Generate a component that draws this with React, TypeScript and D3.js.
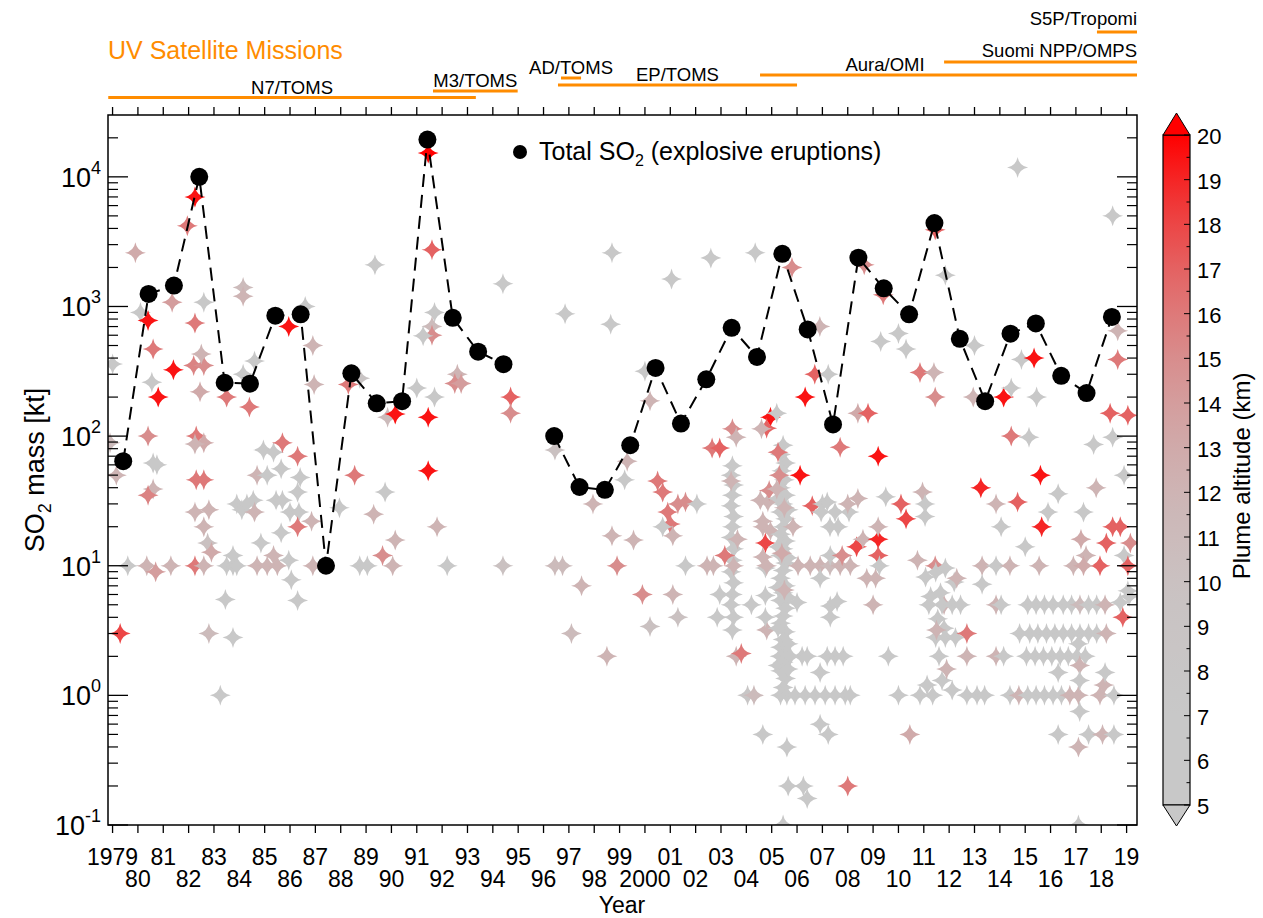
import React from "react";
import * as d3 from "d3";

// ---------------- DATA ----------------
const totalYears: number[] = [
  1979, 1980, 1981, 1982, 1983, 1984, 1985, 1986, 1987, 1988, 1989, 1990, 1991, 1992, 1993, 1994, 1995,
  1996, 1997, 1998, 1999, 2000, 2001, 2002, 2003, 2004, 2005, 2006, 2007, 2008, 2009, 2010, 2011, 2012,
  2013, 2014, 2015, 2016, 2017, 2018,
];
// Total SO2 (kt) from explosive eruptions per year (1995: no value)
const totalSO2: (number | null)[] = [
  64, 1250, 1450, 10000, 258, 254, 850, 870, 10, 305, 179, 186, 19400, 817, 448, 359, null,
  100, 40.5, 38.5, 85, 336, 125, 274, 684, 408, 2550, 665, 123, 2380, 1380, 870, 4400, 563,
  186, 617, 740, 292, 215, 830,
];
const yearMid = 0.42; // annual totals plotted within the year

// individual eruptions: [decimal year, SO2 mass (kt), plume altitude (km)]
const eruptions: [number, number, number][] = [
  // 1979-1980
  [1978.9, 89, 11], [1979.0, 360, 7], [1979.15, 50, 12], [1979.3, 3, 18], [1979.6, 10, 7], [1979.9, 2600, 13],
  [1980.1, 900, 7], [1980.4, 780, 19.5], [1980.6, 470, 16], [1980.55, 260, 7], [1980.8, 200, 19.5],
  [1980.4, 100, 15], [1980.6, 62, 7], [1980.75, 60, 7], [1980.6, 39, 12], [1980.4, 35, 15.5],
  [1980.35, 10, 12], [1980.7, 9, 14],
  // 1981-1982
  [1981.35, 1080, 14], [1981.4, 325, 19.5], [1981.3, 10, 12],
  [1981.95, 4200, 16], [1982.25, 7000, 19.5], [1982.25, 745, 16], [1982.6, 1080, 7],
  [1982.2, 350, 15.5], [1982.6, 350, 15], [1982.5, 430, 12], [1982.45, 220, 13],
  [1982.3, 100, 16], [1982.6, 89, 13], [1982.25, 87, 12], [1982.3, 46, 16], [1982.6, 46, 16],
  [1982.25, 26, 12], [1982.6, 20, 12], [1982.8, 27, 12], [1982.75, 15, 10], [1982.9, 12.7, 13],
  [1982.25, 10, 16], [1982.6, 10, 12], [1982.8, 3, 11],
  // 1983-1984
  [1983.5, 200, 16], [1983.25, 1.0, 7], [1983.45, 5.5, 7], [1983.75, 2.8, 7],
  [1983.5, 10, 7], [1983.75, 10, 7], [1983.9, 10, 7], [1983.75, 12, 7],
  [1983.9, 30, 7], [1984.1, 27, 7], [1984.3, 30, 7], [1984.55, 32, 7],
  [1984.15, 1400, 11], [1984.15, 1200, 12], [1984.15, 300, 7], [1984.4, 168, 16], [1984.6, 380, 7],
  [1984.7, 50, 12], [1984.6, 26, 12], [1984.85, 15, 7], [1984.95, 78, 7], [1985.35, 75, 7], [1985.1, 50, 7],
  [1984.7, 10, 12], [1985.1, 10, 12], [1985.5, 10, 12], [1985.35, 12, 12],
  // 1985-1986
  [1985.7, 89, 16], [1985.65, 56, 7], [1985.45, 32, 7], [1985.7, 32, 7], [1985.65, 18, 7],
  [1985.95, 11, 7], [1986.05, 7.8, 7], [1986.3, 5.4, 7], [1985.95, 700, 19.5], [1986.3, 70, 16],
  [1986.4, 48, 7], [1986.3, 37, 7], [1986.0, 26, 7], [1986.35, 26, 7], [1986.3, 20, 16],
  [1986.6, 1000, 7], [1986.9, 500, 12], [1986.95, 250, 12], [1986.85, 22, 12], [1986.9, 10, 12],
  // 1987-1990
  [1987.95, 28, 7], [1988.3, 250, 16], [1988.55, 50, 16], [1988.75, 10, 7], [1988.75, 280, 9],
  [1989.35, 2100, 7], [1989.85, 140, 11], [1990.15, 148, 19.5], [1989.75, 37, 7], [1989.3, 25, 12],
  [1989.05, 10, 7], [1989.65, 12, 15], [1990.15, 15.8, 12], [1990.05, 10, 12],
  // 1991-1994
  [1991.0, 235, 7], [1991.45, 15300, 20], [1991.6, 2740, 17], [1991.7, 900, 7], [1991.6, 700, 11],
  [1991.6, 600, 15], [1991.25, 595, 7], [1991.7, 200, 7], [1991.45, 140, 19.5], [1991.45, 54, 19.5],
  [1991.8, 20, 12], [1992.2, 10, 7],
  [1992.6, 300, 12], [1992.5, 255, 15], [1992.75, 255, 14],
  [1994.4, 1500, 7], [1994.7, 200, 17], [1994.7, 150, 15], [1994.4, 10, 10],
  // 1996-1999
  [1996.45, 78, 10], [1996.85, 880, 7], [1996.45, 10, 11], [1996.75, 10, 11], [1997.5, 7, 12],
  [1997.1, 3, 11], [1997.95, 30, 12], [1998.5, 2.0, 12], [1998.7, 2600, 7], [1998.65, 730, 7],
  [1998.7, 17, 12], [1998.9, 10, 15], [1999.3, 64, 12], [1999.2, 46, 7], [1999.55, 15.8, 12],
  [1999.9, 6, 15], [2000.2, 3.4, 10], [2000.0, 317, 7], [2000.2, 187, 12],
  // 2000-2002
  [2000.5, 45, 16], [2000.7, 37, 16], [2000.9, 26, 16], [2001.0, 21, 16], [2001.1, 17, 12],
  [2000.7, 20, 7], [2001.3, 30, 15], [2001.6, 31, 15], [2001.1, 6, 12], [2001.3, 4, 10],
  [2001.6, 10, 7], [2001.05, 1630, 7], [2002.05, 30, 7],
  [2002.6, 2370, 7], [2002.45, 10, 12], [2002.7, 10, 12], [2002.85, 4, 7], [2002.65, 81, 16],
  [2002.95, 81, 17], [2002.95, 6, 7],
  // 2003
  [2003.45, 59, 7], [2003.4, 50, 7], [2003.5, 42, 7], [2003.45, 35, 7], [2003.4, 29, 7],
  [2003.5, 24, 7], [2003.45, 20, 7], [2003.4, 16.5, 7], [2003.5, 13.5, 7], [2003.45, 11, 7],
  [2003.4, 9, 7], [2003.5, 7.4, 7], [2003.45, 6, 7], [2003.4, 5, 7], [2003.5, 4, 7], [2003.45, 3.2, 7],
  [2003.45, 114, 15], [2003.6, 98, 12], [2003.15, 12, 16], [2003.6, 2.0, 12], [2003.65, 16, 12],
  [2003.4, 45, 12], [2003.5, 10, 12], [2003.8, 2.1, 16],
  // 2004
  [2004.35, 2600, 7], [2004.05, 1.0, 8], [2004.3, 1.0, 11], [2004.65, 0.5, 7], [2004.8, 3.2, 12],
  [2004.75, 5.9, 7], [2004.2, 5.0, 7], [2004.75, 4, 7], [2004.65, 20, 12], [2004.75, 9.6, 7],
  [2004.95, 140, 19.5], [2004.8, 115, 17], [2004.6, 114, 12], [2004.55, 32, 12], [2004.85, 31, 12],
  [2004.9, 38, 15], [2004.65, 22, 12], [2004.75, 15, 18], [2004.65, 11.7, 12], [2004.8, 10, 12],
  [2004.95, 18.6, 12],
  // 2005
  [2005.45, 85, 7], [2005.35, 72, 7], [2005.55, 62, 7], [2005.4, 54, 7], [2005.5, 46, 7], [2005.35, 40, 7],
  [2005.55, 35, 7], [2005.45, 30, 7], [2005.35, 26, 7], [2005.55, 23, 7], [2005.45, 20, 7], [2005.35, 17.5, 7],
  [2005.55, 15.5, 7], [2005.45, 13.5, 7], [2005.35, 12, 7], [2005.55, 10.5, 7], [2005.45, 9.2, 7], [2005.35, 8, 7],
  [2005.55, 7, 7], [2005.45, 6.2, 7], [2005.35, 5.4, 7], [2005.55, 4.7, 7], [2005.45, 4.1, 7], [2005.35, 3.6, 7],
  [2005.55, 3.1, 7], [2005.45, 2.7, 7], [2005.35, 2.35, 7], [2005.55, 2.05, 7], [2005.45, 1.8, 7], [2005.35, 1.55, 7],
  [2005.55, 1.35, 7], [2005.45, 1.15, 7], [2005.35, 1.0, 7], [2005.6, 1.0, 7],
  [2005.25, 33, 7], [2005.65, 27, 7], [2005.25, 14, 7], [2005.65, 11.5, 7], [2005.25, 6.8, 7], [2005.65, 5.7, 7],
  [2005.25, 3.3, 7], [2005.65, 2.5, 7], [2005.25, 1.7, 7], [2005.65, 1.6, 7],
  [2005.5, 28, 12], [2005.4, 12.5, 13], [2005.5, 6.5, 12],
  [2005.2, 150, 7], [2005.25, 75, 16], [2005.3, 50, 15], [2005.2, 39, 12], [2005.8, 2000, 15],
  [2005.6, 0.4, 7], [2005.65, 0.2, 7], [2006.25, 0.2, 7], [2006.4, 0.16, 7], [2005.45, 0.1, 7],
  // 2006-2008
  [2006.12, 50, 19.5], [2006.32, 200, 19.5], [2006.7, 300, 17], [2006.6, 29, 17], [2007.19, 31, 7], [2007.0, 30, 7],
  [2007.23, 300, 7], [2006.9, 700, 12], [2007.7, 82, 16], [2006.95, 26, 7], [2007.5, 26, 7], [2008.05, 26, 7],
  [2007.3, 20, 7], [2007.62, 20, 7], [2005.84, 20, 12], [2008.0, 30, 12], [2008.4, 33, 12], [2008.35, 14, 18],
  [2008.6, 16, 12],
  [2006.04, 10, 12], [2006.52, 10, 12], [2006.91, 10, 12], [2007.3, 10, 11], [2007.7, 10, 12], [2008.1, 10, 12],
  [2007.31, 12, 7], [2007.78, 12, 15], [2006.91, 8, 7], [2006.0, 5.2, 7], [2007.31, 4.9, 7], [2007.58, 5.3, 7],
  [2007.31, 4, 7],
  [2005.33, 2, 7], [2005.73, 2, 7], [2006.2, 2, 7], [2006.4, 2, 7], [2007.19, 2, 7], [2007.5, 2, 7], [2007.82, 2, 7],
  [2005.92, 1, 7], [2006.32, 1, 7], [2006.71, 1, 7], [2007.11, 1, 7], [2007.5, 1, 7], [2007.9, 1, 7], [2008.1, 1, 7],
  [2006.91, 1.5, 7], [2006.91, 0.6, 7], [2007.23, 0.5, 7], [2008.0, 0.2, 16],
  [2008.4, 150, 13], [2008.8, 150, 17], [2008.75, 8, 12], [2008.65, 2100, 15],
  // 2009-2010
  [2009.4, 1230, 16], [2009.2, 70, 19.5], [2009.2, 16, 19], [2009.2, 20, 12], [2009.2, 12, 17], [2009.25, 10, 7],
  [2009.1, 8, 12], [2009.0, 5, 12], [2009.6, 2, 7], [2009.5, 34, 7], [2010.0, 620, 7], [2010.3, 470, 7],
  [2009.3, 537, 7], [2010.0, 1.0, 7], [2010.45, 0.5, 13], [2010.1, 30, 17], [2010.3, 23, 18],
  [2010.95, 37, 12], [2010.75, 11, 12],
  // 2011-2012
  [2011.45, 3900, 17], [2011.85, 1740, 7], [2010.85, 310, 16], [2011.4, 310, 12], [2011.45, 200, 15],
  [2011.05, 30, 7], [2011.05, 24, 7], [2011.45, 10, 15], [2011.8, 5, 12], [2010.85, 1, 7], [2011.35, 1, 7],
  [2011.07, 8.2, 7], [2011.47, 8.9, 7], [2011.85, 9.6, 7], [2012.2, 7.5, 7], [2011.27, 5.8, 7], [2011.66, 6.2, 7],
  [2011.2, 5.0, 7], [2011.72, 5.0, 7], [2012.12, 5.0, 7], [2012.45, 5.0, 7], [2011.55, 3.9, 7], [2011.8, 3.3, 7],
  [2011.47, 2.8, 7], [2011.85, 2.8, 7], [2011.6, 2.0, 7], [2012.25, 2.8, 7], [2011.13, 1.2, 7], [2011.72, 1.3, 7],
  [2012.12, 1.1, 7], [2011.5, 3.2, 12], [2011.9, 1.6, 12], [2012.3, 8, 12],
  // 2012-2014
  [2012.7, 3, 16], [2012.7, 2, 12], [2012.7, 1, 7], [2013.1, 1, 7], [2013.4, 1, 7], [2013.0, 500, 7], [2012.95, 200, 12],
  [2013.25, 40, 19], [2013.3, 10, 12], [2013.3, 7.2, 7], [2013.85, 30, 12], [2014.05, 20, 7], [2013.85, 10, 7],
  [2014.4, 10, 12], [2013.85, 5, 12], [2014.05, 5, 7], [2013.85, 2, 12], [2014.15, 2, 7], [2014.4, 1, 7], [2014.75, 1, 12],
  // 2014-2015
  [2014.15, 200, 19.5], [2014.45, 235, 7], [2014.7, 11800, 7], [2014.85, 390, 7], [2014.45, 100, 16], [2014.7, 31, 17],
  [2015.0, 14, 7], [2015.35, 400, 19.5], [2015.45, 200, 7], [2015.15, 98, 7], [2015.6, 50, 19.5], [2015.65, 20, 19],
  [2015.9, 26, 7], [2016.3, 36, 7], [2017.3, 26, 7], [2017.7, 86, 7], [2017.8, 40, 12],
  // 2015-2018 small events
  [2015.1, 5, 7], [2015.43, 5, 7], [2015.76, 5, 7], [2016.1, 5, 7], [2016.5, 5, 7], [2016.83, 5, 7], [2017.16, 5, 11],
  [2017.5, 5, 7], [2017.82, 5, 7], [2018.15, 5, 12],
  [2014.78, 3, 7], [2015.18, 3, 7], [2015.5, 3, 7], [2015.84, 3, 7], [2016.17, 3, 7], [2016.5, 3, 7], [2016.83, 3, 7],
  [2017.16, 3, 7], [2017.5, 3, 7], [2017.82, 3, 7], [2018.2, 3, 12],
  [2015.05, 2, 7], [2015.39, 2, 7], [2015.72, 2, 7], [2016.05, 2, 7], [2016.38, 2, 7], [2016.7, 2, 7], [2017.04, 2, 7],
  [2017.37, 2, 7],
  [2015.1, 1, 7], [2015.43, 1, 7], [2015.76, 1, 7], [2016.1, 1, 7], [2016.43, 1, 7], [2016.76, 1, 12], [2017.1, 1, 12],
  [2017.95, 1, 12], [2018.5, 1, 7],
  [2016.3, 0.5, 7], [2017.1, 0.4, 12], [2017.15, 0.75, 7], [2017.5, 0.5, 7], [2018.05, 0.5, 12], [2018.5, 0.5, 7],
  [2018.1, 1.2, 12], [2018.15, 1.5, 7], [2017.1, 0.1, 7], [2017.1, 2.5, 7], [2017.15, 1.7, 12], [2017.15, 1.3, 7],
  [2016.3, 1.5, 7], [2019.05, 6.4, 7], [2018.75, 5.2, 7], [2019.1, 5.8, 7],
  // 2018-2019
  [2018.45, 5000, 7], [2018.65, 650, 12], [2018.65, 390, 16], [2018.35, 150, 17], [2019.05, 145, 17],
  [2018.45, 98, 7], [2018.9, 50, 7], [2017.2, 16, 13], [2017.4, 12, 12],
  [2018.45, 20, 17], [2018.75, 20, 17], [2018.2, 15, 17], [2019.15, 15, 15], [2018.9, 12, 7], [2019.05, 10, 17],
  [2017.95, 10, 17], [2018.85, 4, 17], [2015.55, 10, 12], [2016.9, 10, 12], [2017.3, 10, 13],
];

// UV satellite missions (decimal years)
const missionNames: string[] = ["N7/TOMS", "M3/TOMS", "AD/TOMS", "EP/TOMS", "Aura/OMI", "Suomi NPP/OMPS", "S5P/Tropomi"];
const missionStart: number[] = [1978.83, 1991.64, 1996.69, 1996.57, 2004.54, 2011.8, 2017.83];
const missionEnd: number[] = [1993.33, 1994.98, 1997.48, 2006.0, 2019.41, 2019.41, 2019.41];

// axes
const xTickYears: number[] = [
  1979, 1980, 1981, 1982, 1983, 1984, 1985, 1986, 1987, 1988, 1989, 1990, 1991, 1992, 1993, 1994, 1995,
  1996, 1997, 1998, 1999, 2000, 2001, 2002, 2003, 2004, 2005, 2006, 2007, 2008, 2009, 2010, 2011, 2012,
  2013, 2014, 2015, 2016, 2017, 2018, 2019,
];
const xTickLabels: string[] = [
  "1979", "80", "81", "82", "83", "84", "85", "86", "87", "88", "89", "90", "91", "92", "93", "94", "95",
  "96", "97", "98", "99", "2000", "01", "02", "03", "04", "05", "06", "07", "08", "09", "10", "11", "12",
  "13", "14", "15", "16", "17", "18", "19",
];
const yTickExponents: number[] = [-1, 0, 1, 2, 3, 4];
const altTicks: number[] = [5, 6, 7, 8, 9, 10, 11, 12, 13, 14, 15, 16, 17, 18, 19, 20];

// ---------------- LAYOUT / STYLE ----------------
const FONT = "'Liberation Sans', Arial, Helvetica, sans-serif";
const ORANGE = "#ff8c00";
const PL = 108, PR = 1137, PT = 115, PB = 825;
const missionLayout: Record<string, { barY: number; textY: number; anchor: "middle" | "end"; at?: number }> = {
  "N7/TOMS": { barY: 97.5, textY: 94, anchor: "middle" },
  "M3/TOMS": { barY: 91, textY: 87, anchor: "middle" },
  "AD/TOMS": { barY: 78, textY: 74, anchor: "middle" },
  "EP/TOMS": { barY: 85, textY: 81, anchor: "middle" },
  "Aura/OMI": { barY: 75, textY: 71, anchor: "middle", at: 2009.47 },
  "Suomi NPP/OMPS": { barY: 62, textY: 57, anchor: "end" },
  "S5P/Tropomi": { barY: 32, textY: 25, anchor: "end" },
};

function starPath(r: number) {
  const a = r * 0.15;
  return `M0,${-r}Q${a},${-a} ${r},0Q${a},${a} 0,${r}Q${-a},${a} ${-r},0Q${-a},${-a} 0,${-r}Z`;
}

export default function App() {
  const x = d3.scaleLinear().domain([1978.82, 2019.41]).range([PL, PR]);
  const y = d3.scaleLog().domain([0.1, 30000]).range([PB, PT]);
  const cb = d3.scaleLinear().domain([5, 20]).range([805, 135]);
  const interp = d3.interpolateRgb("rgb(200,200,200)", "rgb(255,0,0)");
  const color = (a: number) => {
    const t = Math.max(0, Math.min(1, (a - 5) / 15));
    return interp(t * t * t);
  };

  const totals = totalYears.map((yr, i) => ({ yr, v: totalSO2[i] }));
  const line = d3
    .line<{ yr: number; v: number | null }>()
    .defined((d) => d.v != null)
    .x((d) => x(d.yr + yearMid))
    .y((d) => y(d.v as number));

  const star = starPath(10.5);

  // y minor ticks
  const minor: number[] = [];
  for (let e = -1; e <= 4; e++) {
    for (let m = 2; m <= 9; m++) {
      const v = m * Math.pow(10, e);
      if (v < 30000) minor.push(v);
    }
  }

  const gradStops = d3.range(5, 20.01, 0.5);
  const cbX0 = 1163, cbX1 = 1190, cbMid = (cbX0 + cbX1) / 2;

  return (
    <svg
      width={1263}
      height={918}
      style={{ position: "absolute", left: 0, top: 0, background: "#fff" }}
      fontFamily={FONT}
    >
      <defs>
        <clipPath id="plotClip">
          <rect x={PL} y={PT} width={PR - PL} height={PB - PT} />
        </clipPath>
        <linearGradient id="altGrad" x1="0" y1="1" x2="0" y2="0">
          {gradStops.map((a) => (
            <stop key={a} offset={(a - 5) / 15} stopColor={color(a)} />
          ))}
        </linearGradient>
      </defs>
      <rect x={0} y={0} width={1263} height={918} fill="#fff" />

      {/* Missions */}
      <text x={PL} y={59} fontSize={25} fill={ORANGE}>UV Satellite Missions</text>
      {missionNames.map((name, i) => {
        const L = missionLayout[name];
        const x0 = x(missionStart[i]);
        const x1 = x(missionEnd[i]);
        const tx = L.anchor === "end" ? x1 : L.at != null ? x(L.at) : (x0 + x1) / 2;
        return (
          <g key={name}>
            <line x1={x0} x2={x1} y1={L.barY} y2={L.barY} stroke={ORANGE} strokeWidth={3} />
            <text x={tx} y={L.textY} fontSize={18.5} textAnchor={L.anchor} fill="#000">{name}</text>
          </g>
        );
      })}

      {/* Data */}
      <g clipPath="url(#plotClip)">
        {eruptions.map((d, i) => (
          <path key={i} d={star} transform={`translate(${x(d[0])},${y(d[1])})`} fill={color(d[2])} />
        ))}
        <path d={line(totals) || ""} fill="none" stroke="#000" strokeWidth={2} strokeDasharray="13 8" />
        {totals.filter((d) => d.v != null).map((d) => (
          <circle key={d.yr} cx={x(d.yr + yearMid)} cy={y(d.v as number)} r={9} fill="#000" />
        ))}
      </g>

      {/* Frame */}
      <rect x={PL} y={PT} width={PR - PL} height={PB - PT} fill="none" stroke="#000" strokeWidth={1.5} />

      {/* X ticks */}
      {xTickYears.map((yr, i) => (
        <g key={yr}>
          <line x1={x(yr)} x2={x(yr)} y1={PB} y2={PB + 8} stroke="#000" strokeWidth={1.3} />
          <line x1={x(yr)} x2={x(yr)} y1={PT} y2={PT - 8} stroke="#000" strokeWidth={1.3} />
          <text x={x(yr)} y={i % 2 === 0 ? 865 : 887} fontSize={23} textAnchor="middle">{xTickLabels[i]}</text>
        </g>
      ))}
      <text x={622} y={913} fontSize={23} textAnchor="middle">Year</text>

      {/* Y ticks */}
      {yTickExponents.map((e) => {
        const yy = y(Math.pow(10, e));
        return (
          <g key={e}>
            <line x1={PL} x2={PL + 20} y1={yy} y2={yy} stroke="#000" strokeWidth={1.3} />
            <line x1={PR} x2={PR - 20} y1={yy} y2={yy} stroke="#000" strokeWidth={1.3} />
            <text x={101} y={yy + 10} fontSize={27} textAnchor="end">
              10<tspan dy={-13} fontSize={18}>{String(e)}</tspan>
            </text>
          </g>
        );
      })}
      {minor.map((v) => (
        <g key={v}>
          <line x1={PL} x2={PL + 10} y1={y(v)} y2={y(v)} stroke="#000" strokeWidth={1.2} />
          <line x1={PR} x2={PR - 10} y1={y(v)} y2={y(v)} stroke="#000" strokeWidth={1.2} />
        </g>
      ))}
      <text transform="translate(44,470) rotate(-90)" fontSize={27} textAnchor="middle">
        SO<tspan dy={7} fontSize={18}>2</tspan><tspan dy={-7}> mass [kt]</tspan>
      </text>

      {/* Legend */}
      <circle cx={520} cy={152} r={7} fill="#000" />
      <text x={539} y={160} fontSize={25}>
        Total SO<tspan dy={6} fontSize={16}>2</tspan><tspan dy={-6}> (explosive eruptions)</tspan>
      </text>

      {/* Colorbar */}
      <rect x={cbX0} y={cb(20)} width={cbX1 - cbX0} height={cb(5) - cb(20)} fill="url(#altGrad)" stroke="#000" strokeWidth={1.2} />
      <path d={`M${cbX0},${cb(20)}L${cbX1},${cb(20)}L${cbMid},${cb(20) - 22}Z`} fill={color(20)} stroke="#000" strokeWidth={1} />
      <path d={`M${cbX0},${cb(5)}L${cbX1},${cb(5)}L${cbMid},${cb(5) + 21}Z`} fill={color(5)} stroke="#000" strokeWidth={1} />
      {d3.range(5, 20.01, 0.5).map((a) => (
        <line key={a} x1={cbX1} x2={cbX1 - (Number.isInteger(a) ? 6 : 3.5)} y1={cb(a)} y2={cb(a)} stroke="#000" strokeWidth={1} />
      ))}
      {altTicks.map((a) => (
        <text key={a} x={1197} y={cb(a) + 9} fontSize={22}>{a}</text>
      ))}
      <text transform="translate(1250,476) rotate(-90)" fontSize={24} textAnchor="middle">Plume altitude (km)</text>
    </svg>
  );
}
